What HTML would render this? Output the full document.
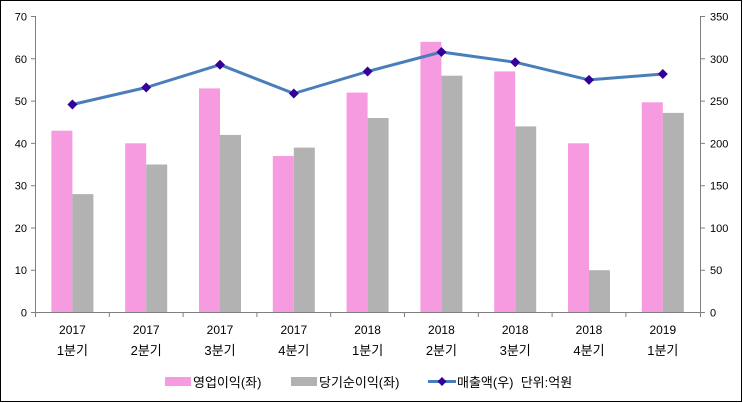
<!DOCTYPE html>
<html><head><meta charset="utf-8"><style>
html,body{margin:0;padding:0;background:#fff}
svg{display:block}
text{font-family:"Liberation Sans","Noto Sans CJK KR",sans-serif;fill:#000}
</style></head><body>
<svg width="743" height="403" viewBox="0 0 743 403" xmlns="http://www.w3.org/2000/svg">
<rect x="0.5" y="0.5" width="741" height="401" fill="#fff" stroke="#000" stroke-width="1"/>
<g fill="#f79be0">
<rect x="51.4" y="130.7" width="21" height="181.8"/>
<rect x="125.2" y="143.3" width="21" height="169.2"/>
<rect x="199" y="88.4" width="21" height="224.1"/>
<rect x="272.8" y="156" width="21" height="156.5"/>
<rect x="346.6" y="92.6" width="21" height="219.9"/>
<rect x="420.4" y="41.8" width="21" height="270.7"/>
<rect x="494.2" y="71.4" width="21" height="241.1"/>
<rect x="568" y="143.3" width="21" height="169.2"/>
<rect x="641.8" y="102.3" width="21" height="210.2"/>
</g>
<g fill="#b2b2b2">
<rect x="72.4" y="194.1" width="21" height="118.4"/>
<rect x="146.2" y="164.5" width="21" height="148"/>
<rect x="220" y="134.9" width="21" height="177.6"/>
<rect x="293.8" y="147.6" width="21" height="164.9"/>
<rect x="367.6" y="118" width="21" height="194.5"/>
<rect x="441.4" y="75.7" width="21" height="236.8"/>
<rect x="515.2" y="126.4" width="21" height="186.1"/>
<rect x="589" y="270.2" width="21" height="42.3"/>
<rect x="662.8" y="112.9" width="21" height="199.6"/>
</g>
<g stroke="#808080" stroke-width="1" fill="none">
<path d="M35.5 16V312.5M700.5 16V312.5M35.5 312.5H700.5"/>
<path d="M31 16.5H35.5M31 58.8H35.5M31 101.1H35.5M31 143.4H35.5M31 185.7H35.5M31 228H35.5M31 270.2H35.5M31 312.5H35.5"/>
<path d="M700.5 16.5H705M700.5 58.8H705M700.5 101.1H705M700.5 143.4H705M700.5 185.7H705M700.5 228H705M700.5 270.2H705M700.5 312.5H705"/>
<path d="M35.5 312.5V317M109.3 312.5V317M183.1 312.5V317M256.9 312.5V317M330.7 312.5V317M404.5 312.5V317M478.3 312.5V317M552.1 312.5V317M625.9 312.5V317M700.5 312.5V317"/>
</g>
<polyline points="72.4,104.5 146.2,87.5 220,64.7 293.8,93.5 367.6,71.5 441.4,52 515.2,62.2 589,79.9 662.8,74" fill="none" stroke="#4a7ebb" stroke-width="3" stroke-linejoin="round"/>
<g fill="#330099">
<path d="M72.4 99.5l5 5-5 5-5-5z"/><path d="M146.2 82.5l5 5-5 5-5-5z"/><path d="M220 59.7l5 5-5 5-5-5z"/>
<path d="M293.8 88.5l5 5-5 5-5-5z"/><path d="M367.6 66.5l5 5-5 5-5-5z"/><path d="M441.4 47l5 5-5 5-5-5z"/>
<path d="M515.2 57.2l5 5-5 5-5-5z"/><path d="M589 74.9l5 5-5 5-5-5z"/><path d="M662.8 69l5 5-5 5-5-5z"/>
</g>
<g font-size="11" text-anchor="end">
<text x="27" y="20.5">70</text><text x="27" y="62.8">60</text><text x="27" y="105.1">50</text><text x="27" y="147.4">40</text><text x="27" y="189.7">30</text><text x="27" y="232">20</text><text x="27" y="274.2">10</text><text x="27" y="316.5">0</text>
</g>
<g font-size="11" text-anchor="start">
<text x="710" y="20.5">350</text><text x="710" y="62.8">300</text><text x="710" y="105.1">250</text><text x="710" y="147.4">200</text><text x="710" y="189.7">150</text><text x="710" y="232">100</text><text x="710" y="274.2">50</text><text x="710" y="316.5">0</text>
</g>
<g font-size="12" text-anchor="middle">
<text x="72.4" y="334">2017</text><text x="146.2" y="334">2017</text><text x="220" y="334">2017</text><text x="293.8" y="334">2017</text><text x="367.6" y="334">2018</text><text x="441.4" y="334">2018</text><text x="515.2" y="334">2018</text><text x="589" y="334">2018</text><text x="662.8" y="334">2019</text>
</g>
<g font-size="13" text-anchor="middle">
<text x="72.4" y="355">1분기</text><text x="146.2" y="355">2분기</text><text x="220" y="355">3분기</text><text x="293.8" y="355">4분기</text><text x="367.6" y="355">1분기</text><text x="441.4" y="355">2분기</text><text x="515.2" y="355">3분기</text><text x="589" y="355">4분기</text><text x="662.8" y="355">1분기</text>
</g>
<rect x="165" y="377" width="26" height="9" fill="#f79be0"/>
<text x="193" y="387" font-size="13">영업이익(좌)</text>
<rect x="291" y="377" width="26" height="9" fill="#b2b2b2"/>
<text x="319" y="387" font-size="13">당기순이익(좌)</text>
<line x1="428" y1="381.5" x2="456" y2="381.5" stroke="#4a7ebb" stroke-width="3"/>
<path d="M442 377l4.5 4.5-4.5 4.5-4.5-4.5z" fill="#330099"/>
<text x="457" y="387" font-size="13" xml:space="preserve">매출액(우)  단위:억원</text>
</svg>
</body></html>
